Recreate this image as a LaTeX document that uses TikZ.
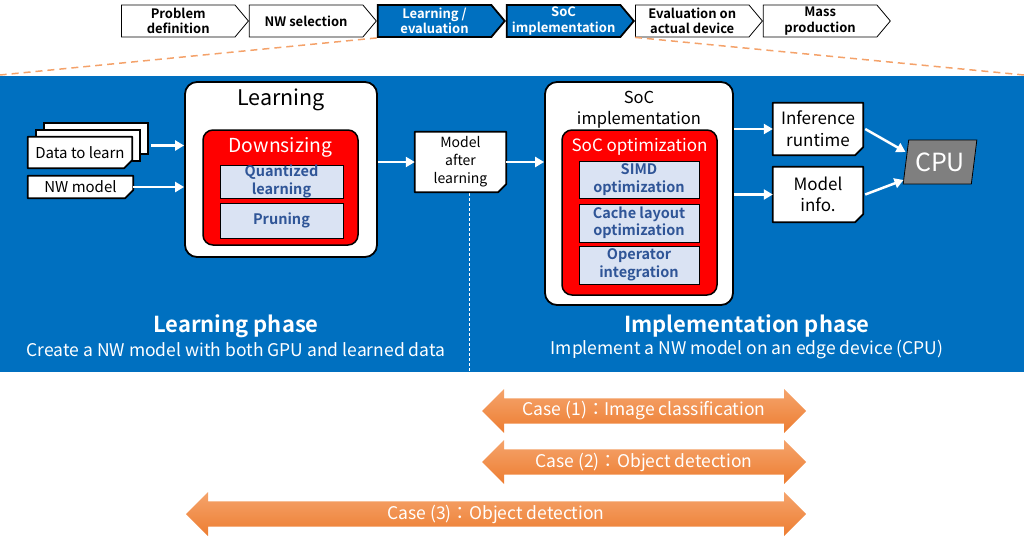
\documentclass[tikz,border=0pt]{standalone}
\usepackage{fontspec}
\setmainfont{Noto Sans CJK JP}[BoldFont={Noto Sans CJK JP Bold}]
\usepackage{tikz}
\usetikzlibrary{arrows.meta,
                calc,
                positioning,
                shapes.geometric,
                shapes.symbols,
                shapes.arrows}

\definecolor{nwblue}{HTML}{0070C0}
\definecolor{techfill}{HTML}{DAE3F3}
\definecolor{techtext}{HTML}{2F5597}
\definecolor{cpugray}{HTML}{7F7F7F}
\definecolor{caselight}{HTML}{F5A46C}
\definecolor{casedark}{HTML}{ED7D31}
\definecolor{dashorange}{HTML}{F4A26A}

\tikzset{
  stagebox/.style={signal, signal to=east, signal pointer angle=100,
    draw=black, line width=0.8pt, fill=white, minimum width=127pt,
    minimum height=32pt, inner sep=0pt, align=center,
    font=\bfseries\fontsize{13}{15.5}\selectfont},
  stagenow/.style={stagebox, fill=nwblue, text=white, line width=1.8pt},
  panel/.style={draw=black, line width=1.8pt, fill=white,
    rounded corners=12pt, inner sep=0pt},
  redpanel/.style={draw=black, line width=1.5pt, fill=red,
    rounded corners=10pt, inner sep=0pt},
  techbox/.style={draw=black, line width=0.8pt, fill=techfill,
    text=techtext, inner sep=0pt, align=center,
    font=\bfseries\fontsize{14.5}{17.5}\selectfont},
  doc/.style={fill=white, inner sep=0pt, align=center,
    font=\fontsize{14}{18}\selectfont},
  warrow/.style={white, line width=2.5pt, -{Triangle[length=9pt,width=10pt]}},
  casearrow/.style={double arrow, double arrow head extend=7pt,
    minimum width=44pt, inner sep=0pt, draw=none,
    top color=caselight, bottom color=casedark, text=white,
    font=\fontsize{17.5}{20}\selectfont},
}

% document outline with folded corner
\newcommand{\docshape}[1]{%
  \fill[nwblue] ([yshift=8pt]#1.south east) -- (#1.south east)
    -- ([xshift=-8pt]#1.south east) -- cycle;
  \draw[black, line width=1.8pt, line join=round] (#1.north west)
    -- (#1.north east) -- ([yshift=8pt]#1.south east)
    -- ([xshift=-8pt]#1.south east) -- (#1.south west) -- cycle;
  \fill[black] ([yshift=8pt]#1.south east) -- ([xshift=-8pt]#1.south east)
    -- ([xshift=-5pt,yshift=3pt]#1.south east) -- cycle;}

\begin{document}
\begin{tikzpicture}[x=1pt,y=-1pt]
\useasboundingbox (0,0) rectangle (1024,538);

% process stages
\node[stagebox, anchor=west] (define) at (121,21) {Problem\\definition};
\node[stagebox, right=0pt of define] (select) {NW selection};
\node[stagenow, right=0pt of select] (train) {Learning /\\evaluation};
\node[stagenow, right=0pt of train] (socimpl) {SoC\\implementation};
\node[stagebox, right=0pt of socimpl] (evaluate) {Evaluation on\\actual device};
\node[stagebox, right=0pt of evaluate] (mass) {Mass\\production};

\coordinate (zoomleft) at (0,75);
\coordinate (zoomright) at (1024,75);
\draw[dashorange, line width=1.5pt, dash pattern=on 7pt off 5pt] (train.south west) -- (zoomleft);
\draw[dashorange, line width=1.5pt, dash pattern=on 7pt off 5pt] (evaluate.south west) -- (zoomright);

% blue band
\fill[nwblue] (0,76) rectangle (1024,372);
\coordinate (splittop) at (469,193);
\coordinate (splitbot) at (469,372);
\draw[white, densely dashed, line width=0.6pt] (splittop) -- (splitbot);

% inputs
\node[draw=black, line width=1.8pt, fill=white, minimum width=104pt, minimum height=31pt] (data3) at (96,138.5) {};
\node[draw=black, line width=1.8pt, fill=white, minimum width=104pt, minimum height=31pt] (data2) at (88,145.5) {};
\node[doc, minimum width=104pt, minimum height=31pt, font=\fontsize{15}{18}\selectfont] (data) at (80,152.5) {Data to learn};
\docshape{data}
\node[doc, minimum width=105pt, minimum height=22pt, font=\fontsize{15}{18}\selectfont] (nwm) at (80.5,187) {NW model};
\docshape{nwm}

% learning
\node[panel, minimum width=192pt, minimum height=175pt] (learn) at (281,169.5) {};
\node[font=\fontsize{21.5}{24}\selectfont] (learntitle) at (281,100) {Learning};
\node[redpanel, minimum width=155pt, minimum height=115pt] (down) at (280.5,187.5) {};
\node[text=white, font=\fontsize{19.3}{22}\selectfont] (downtitle) at (280.5,147) {Downsizing};
\node[techbox, minimum width=123pt, minimum height=33pt] (quant) at (281.5,181.5) {Quantized\\learning};
\node[techbox, minimum width=123pt, minimum height=35pt] (prune) at (281.5,220.5) {Pruning};

\node[doc, minimum width=91pt, minimum height=60pt] (mal) at (460.5,162) {Model\\after\\learning};
\docshape{mal}

% implementation
\node[panel, minimum width=188pt, minimum height=223pt] (soc) at (639,193.5) {};
\node[align=center, font=\fontsize{16.5}{21}\selectfont] (soctitle) at (639,110) {SoC\\implementation};
\node[redpanel, minimum width=155pt, minimum height=165pt] (socopt) at (639.5,212.5) {};
\node[text=white, font=\fontsize{17}{21}\selectfont] (socopttitle) at (639.5,147) {SoC optimization};
\node[techbox, minimum width=120pt, minimum height=37pt] (simd) at (639,179.5) {SIMD\\optimization};
\node[techbox, minimum width=120pt, minimum height=38pt] (cache) at (639,223) {Cache layout\\optimization};
\node[techbox, minimum width=120pt, minimum height=38pt] (oper) at (639,265) {Operator\\integration};

\node[doc, minimum width=90pt, minimum height=52pt, font=\fontsize{17}{22}\selectfont] (infr) at (818,129) {Inference\\runtime};
\docshape{infr}
\node[doc, minimum width=90pt, minimum height=55pt, font=\fontsize{17}{21}\selectfont] (minfo) at (818,194.5) {Model\\info.};
\docshape{minfo}
\node[trapezium, trapezium left angle=77, trapezium right angle=103, trapezium stretches=true,
  draw=black, line width=0.8pt, fill=cpugray, text=white, minimum width=74pt, minimum height=44pt,
  inner sep=0pt, font=\fontsize{25}{28}\selectfont] (cpu) at (940,162) {CPU};

% flows
\draw[warrow] ([xshift=2pt]data3.east |- data2.east) -- (learn.west |- data2.east);
\draw[warrow] (nwm.east) -- (learn.west |- nwm.east);
\draw[warrow] (learn.east |- mal.west) -- (mal.west);
\draw[warrow] (mal.east) -- (soc.west |- mal.east);
\draw[warrow] (soc.east |- infr.west) -- (infr.west);
\draw[warrow] (soc.east |- minfo.west) -- (minfo.west);
\draw[warrow] ([xshift=2pt]infr.east) -- ([yshift=10pt]cpu.west);
\draw[warrow] ([xshift=2pt]minfo.east) -- ([xshift=-2pt,yshift=-18pt]cpu.west);

% phases
\node[text=white, font=\bfseries\fontsize{22}{25}\selectfont] (learnphase) at (236,326) {Learning phase};
\node[text=white, font=\fontsize{17.5}{20}\selectfont] (learnnote) at (236,350) {Create a NW model with both GPU and learned data};
\node[text=white, font=\bfseries\fontsize{22}{25}\selectfont] (implphase) at (747,326) {Implementation phase};
\node[text=white, font=\fontsize{17.5}{20}\selectfont] (implnote) at (747,350) {Implement a NW model on an edge device (CPU)};

% cases
\node[casearrow, minimum height=324pt] (case1) at (644,411) {Case (1)：Image classification};
\node[casearrow, minimum height=324pt] (case2) at (644,462) {Case (2)：Object detection};
\node[casearrow, minimum height=620pt] (case3) at (496,514) {Case (3)：Object detection};

\end{tikzpicture}
\end{document}
